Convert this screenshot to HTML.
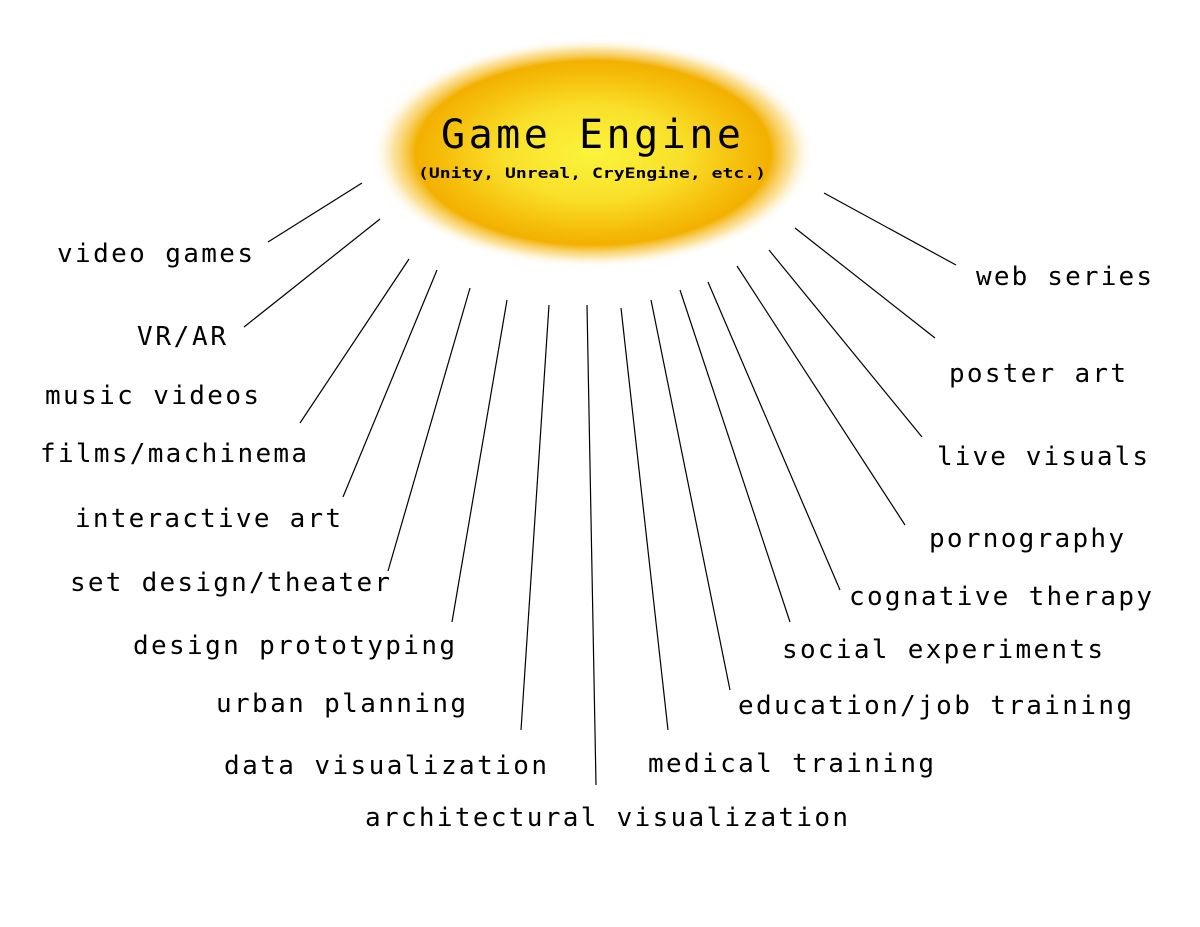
<!DOCTYPE html>
<html><head><meta charset="utf-8"><style>
html,body{margin:0;padding:0;background:#fff;}
svg{display:block;}
text{font-family:"DejaVu Sans Mono","Liberation Mono",monospace;fill:#000;}
</style></head><body>
<svg id="diagram" width="1200" height="927" viewBox="0 0 1200 927">
<defs>
<radialGradient id="glow" cx="50%" cy="50%" r="50%">
<stop offset="0" stop-color="#fbf43c"/>
<stop offset="0.4" stop-color="#f9e02a"/>
<stop offset="0.68" stop-color="#f5bd0a"/>
<stop offset="0.8" stop-color="#f3b000"/>
<stop offset="0.9" stop-color="#f8d060" stop-opacity="0.6"/>
<stop offset="1" stop-color="#ffffff" stop-opacity="0"/>
</radialGradient>
</defs>
<ellipse cx="593" cy="153" rx="222" ry="115" fill="url(#glow)"/>
<text x="591" y="148" text-anchor="middle" font-size="40" textLength="300" lengthAdjust="spacing">Game Engine</text>
<text x="592" y="178" text-anchor="middle" font-size="14" font-weight="bold" textLength="348" lengthAdjust="spacingAndGlyphs">(Unity, Unreal, CryEngine, etc.)</text>
<g id="items"></g>
</svg>
<script>
const labels=["video games","VR/AR","music videos","films/machinema","interactive art","set design/theater","design prototyping","urban planning","data visualization","architectural visualization","medical training","education/job training","social experiments","cognative therapy","pornography","live visuals","poster art","web series"];
const textX=[57,137,45,40,75,70,133,216,224,365,648,738,782,849,929,937,949,976];
const textW=[196,89,214,267,266,320,322,250,323,483,286,394,321,303,195,211,177,176];
const textY=[262,345,404,462,527,591,654,712,774,826,772,714,658,605,547,465,382,285];
const lineSeg=[[268,242,362,183],[244,327,380,219],null,[300,423,409,259],[343,497,437,270],[388,571,470,288],[452,622,507,300],null,[521,730,549,305],[596,785,587,305],[668,730,621,308],[730,690,651,300],[790,622,680,290],[840,590,708,282],[905,525,737,266],[922,437,769,250],[935,338,795,228],[956,265,824,193]];
const g=document.getElementById('items');
const NS='http://www.w3.org/2000/svg';
labels.forEach((lab,i)=>{
  const t=document.createElementNS(NS,'text');
  
  
  t.setAttribute('x',textX[i]);t.setAttribute('y',textY[i]);
  t.setAttribute('font-size','26');
  t.setAttribute('textLength',textW[i]);
  t.setAttribute('lengthAdjust','spacing');
  t.textContent=lab;g.appendChild(t);
  const s=lineSeg[i];
  if(s){
    const l=document.createElementNS(NS,'line');
    
    
    l.setAttribute('x1',s[0]);l.setAttribute('y1',s[1]);l.setAttribute('x2',s[2]);l.setAttribute('y2',s[3]);
    l.setAttribute('stroke','#000');l.setAttribute('stroke-width','1.2');
    g.appendChild(l);
  }
});
</script>
</body></html>
